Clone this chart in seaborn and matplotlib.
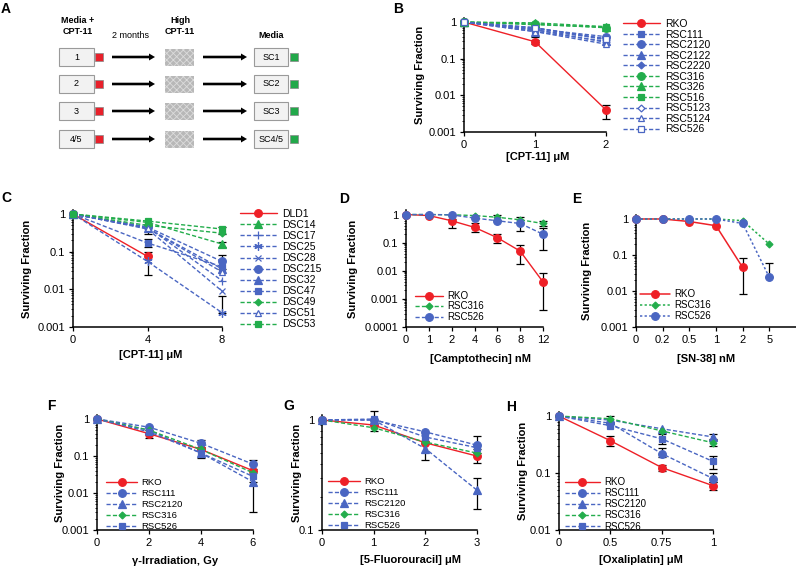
import numpy as np
import matplotlib
matplotlib.use('Agg')
import matplotlib.pyplot as plt
import seaborn as sns
from matplotlib.patches import Rectangle, FancyArrow
from matplotlib.ticker import LogLocator, NullFormatter

sns.set_theme(style='ticks')
plt.rcParams['font.family'] = ['Liberation Sans', 'DejaVu Sans']
plt.rcParams['text.color'] = 'black'
plt.rcParams['axes.labelcolor'] = 'black'
plt.rcParams['axes.edgecolor'] = 'black'
plt.rcParams['xtick.color'] = 'black'
plt.rcParams['ytick.color'] = 'black'
plt.rcParams['hatch.linewidth'] = 0.6

# ---------------- data ----------------
# B: CPT-11, RKO-derived lines
b_x = [0, 1, 2]
b_names = ['RKO', 'RSC111', 'RSC2120', 'RSC2122', 'RSC2220', 'RSC316',
           'RSC326', 'RSC516', 'RSC5123', 'RSC5124', 'RSC526']
b_values = [[1, 0.29, 0.004], [1, 0.6, 0.35], [1, 0.65, 0.4], [1, 0.55, 0.3],
            [1, 0.7, 0.33], [1, 0.88, 0.7], [1, 0.95, 0.75], [1, 0.85, 0.72],
            [1, 0.62, 0.28], [1, 0.55, 0.25], [1, 0.7, 0.35]]
b_err = [('RKO', 1, 0.25, 0.33), ('RKO', 2, 0.0022, 0.0055),
         ('RSC111', 0, 0.8, 1.1), ('RSC2122', 1, 0.4, 0.75)]

# C: CPT-11, DLD1-derived lines
c_x = [0, 4, 8]
c_names = ['DLD1', 'DSC14', 'DSC17', 'DSC25', 'DSC28', 'DSC215', 'DSC32',
           'DSC47', 'DSC49', 'DSC51', 'DSC53']
c_values = [[1, 0.075, np.nan], [1, 0.6, 0.16], [1, 0.45, 0.017], [1, 0.055, 0.0024],
            [1, 0.4, 0.009], [1, 0.45, 0.055], [1, 0.42, 0.035], [1, 0.17, 0.04],
            [1, 0.5, 0.31], [1, 0.42, 0.029], [1, 0.65, 0.4]]
c_err = [('DLD1', 4, 0.024, 0.1), ('DSC47', 4, 0.13, 0.22), ('DSC215', 4, 0.3, 0.55),
         ('DSC215', 8, 0.035, 0.08), ('DSC25', 8, 0.0024, 0.0065),
         ('DSC53', 8, 0.3, 0.45), ('DSC14', 8, 0.13, 0.18)]

# D: camptothecin
d_labels = ['0', '1', '2', '4', '6', '8', '12']
d_x = [0, 1, 2, 3, 4, 5, 6]
d_names = ['RKO', 'RSC316', 'RSC526']
d_values = [[1, 0.92, 0.6, 0.35, 0.15, 0.05, 0.004],
            [1, 1, 0.98, 0.92, 0.8, 0.65, 0.48],
            [1, 1, 0.97, 0.75, 0.6, 0.48, 0.2]]
d_err = [('RKO', 2, 0.34, 0.72), ('RKO', 3, 0.23, 0.48), ('RKO', 4, 0.1, 0.21),
         ('RKO', 5, 0.018, 0.08), ('RKO', 6, 0.0004, 0.0085),
         ('RSC316', 4, 0.65, 1.0), ('RSC316', 6, 0.38, 0.6),
         ('RSC526', 5, 0.26, 0.85), ('RSC526', 6, 0.056, 0.34)]

# E: SN-38
e_labels = ['0', '0.2', '0.5', '1', '2', '5']
e_x = [0, 1, 2, 3, 4, 5]
e_names = ['RKO', 'RSC316', 'RSC526']
e_values = [[1, 1, 0.85, 0.65, 0.045, np.nan],
            [1, 1, 1, 1, 0.9, 0.2],
            [1, 1, 1, 1, 0.75, 0.024]]
e_err = [('RKO', 4, 0.008, 0.085), ('RSC526', 5, 0.024, 0.06)]

# F: gamma irradiation
f_x = [0, 2, 4, 6]
fgh_names = ['RKO', 'RSC111', 'RSC2120', 'RSC316', 'RSC526']
f_values = [[1, 0.4, 0.15, 0.04], [1, 0.6, 0.22, 0.06], [1, 0.5, 0.12, 0.02],
            [1, 0.5, 0.15, 0.035], [1, 0.45, 0.12, 0.028]]
f_err = [('RKO', 2, 0.3, 0.5), ('RSC111', 4, 0.17, 0.27), ('RSC111', 6, 0.045, 0.08),
         ('RSC2120', 6, 0.003, 0.02), ('RSC526', 4, 0.09, 0.16)]

# G: 5-fluorouracil
g_x = [0, 1, 2, 3]
g_values = [[1, 0.9, 0.62, 0.47], [1, 1.0, 0.78, 0.59], [1, 1.0, 0.55, 0.23],
            [1, 0.85, 0.63, 0.5], [1, 1.02, 0.7, 0.56]]
g_err = [('RKO', 3, 0.41, 0.55), ('RSC111', 1, 0.8, 1.2), ('RSC111', 3, 0.5, 0.71),
         ('RSC2120', 2, 0.43, 0.65), ('RSC2120', 3, 0.155, 0.3)]

# H: oxaliplatin
h_labels = ['0', '0.5', '0.75', '1']
h_x = [0, 1, 2, 3]
h_values = [[1, 0.37, 0.125, 0.06], [1, 0.75, 0.22, 0.08], [1, 0.85, 0.6, 0.43],
            [1, 0.9, 0.55, 0.34], [1, 0.68, 0.4, 0.16]]
h_err = [('RKO', 1, 0.3, 0.45), ('RKO', 2, 0.11, 0.14), ('RKO', 3, 0.05, 0.07),
         ('RSC111', 2, 0.19, 0.27), ('RSC111', 3, 0.07, 0.1), ('RSC2120', 3, 0.38, 0.48),
         ('RSC316', 1, 0.8, 1.02), ('RSC316', 3, 0.3, 0.4),
         ('RSC526', 2, 0.33, 0.48), ('RSC526', 3, 0.12, 0.2)]

# schematic rows
a_left = ['1', '2', '3', '4/5']
a_right = ['SC1', 'SC2', 'SC3', 'SC4/5']

# ---------------- styles ----------------
RED = '#ee2027'
BLUE = '#4a66c2'
GREEN = '#23ad4c'
DASH = (0, (3, 1.6))
SOLID = '-'

b_styles = [(RED, 'o', 5.5, True, SOLID), (BLUE, 's', 5, True, DASH),
            (BLUE, 'o', 5.5, True, DASH), (BLUE, '^', 5.5, True, DASH),
            (BLUE, 'D', 3.5, True, DASH), (GREEN, 'o', 5.5, True, DASH),
            (GREEN, '^', 5.5, True, DASH), (GREEN, 's', 5, True, DASH),
            (BLUE, 'D', 3.5, False, DASH), (BLUE, '^', 5, False, DASH),
            (BLUE, 's', 5, False, DASH)]
c_styles = [(RED, 'o', 5.5, True, SOLID), (GREEN, '^', 5.5, True, DASH),
            (BLUE, '+', 6, True, DASH), (BLUE, (6, 2, 0), 6, True, DASH),
            (BLUE, 'x', 5, True, DASH), (BLUE, 'o', 5.5, True, DASH),
            (BLUE, '^', 5.5, True, DASH), (BLUE, 's', 5, True, DASH),
            (GREEN, 'D', 3.5, True, DASH), (BLUE, '^', 5, False, DASH),
            (GREEN, 's', 5, True, DASH)]
de_styles = [(RED, 'o', 5.5, True, SOLID), (GREEN, 'D', 3.5, True, DASH),
             (BLUE, 'o', 5.5, True, DASH)]
fgh_styles = [(RED, 'o', 5.5, True, SOLID), (BLUE, 'o', 5.5, True, DASH),
              (BLUE, '^', 5.5, True, DASH), (GREEN, 'D', 3.5, True, DASH),
              (BLUE, 's', 5, True, DASH)]

W, H = 796, 566
fig = plt.figure(figsize=(W / 100, H / 100), dpi=100)


def make_ax(rect):
    l, t, r, b = rect
    return fig.add_axes([l / W, 1 - b / H, (r - l) / W, (b - t) / H])


def fmt(v):
    return ('%f' % v).rstrip('0').rstrip('.')


def style_ax(ax, xlim, xticks, xticklabels, ylim, yticks):
    ax.set_yscale('log')
    ax.set_xlim(*xlim)
    ax.set_ylim(*ylim)
    ax.set_xticks(xticks, [str(t) for t in xticklabels])
    ax.set_yticks(yticks, [fmt(v) for v in yticks])
    ax.yaxis.set_minor_locator(LogLocator(base=10, subs=np.arange(2, 10) * 1.0, numticks=20))
    ax.yaxis.set_minor_formatter(NullFormatter())
    sns.despine(ax=ax)
    for s in ['left', 'bottom']:
        ax.spines[s].set_linewidth(1.1)
    ax.tick_params(which='major', direction='out', length=3, width=0.9, labelsize=8, pad=2.5)
    ax.tick_params(which='minor', direction='out', length=1.8, width=0.6)
    ax.set_facecolor('none')


def draw(ax, x, names, values, styles, errs, lw=1.0):
    for name, x0, lo, hi in errs:
        y = values[names.index(name)][x.index(x0)]
        ax.errorbar([x0], [y], yerr=[[max(y - lo, 0)], [max(hi - y, 0)]], fmt='none',
                    ecolor='black', elinewidth=0.9, capsize=3, capthick=0.9,
                    zorder=2, clip_on=False)
    for name, vals, st in zip(names, values, styles):
        color, marker, ms, filled, ls = st
        sns.lineplot(x=x, y=vals, ax=ax, color=color, marker=marker, markersize=ms,
                     markerfacecolor=color if filled else 'white',
                     markeredgecolor=color, markeredgewidth=0.9,
                     linestyle=ls, linewidth=lw, label=name, clip_on=False,
                     zorder=3, errorbar=None, sort=False)


def labels(ax, rect, xlabel, xl_cx, xl_top, yl_right):
    l, t, r, b = rect
    ax.set_xlabel(xlabel, fontsize=8, fontweight='bold')
    ax.xaxis.set_label_coords((xl_cx - l) / (r - l), (b - xl_top) / (b - t))
    ax.set_ylabel('Surviving Fraction', fontsize=8, fontweight='bold')
    ax.yaxis.set_label_coords((yl_right - l) / (r - l), 0.5)


def legend(ax, px, py, fs, hl, ls):
    ax.legend(loc='upper left', bbox_to_anchor=(px / W, 1 - py / H),
              bbox_transform=fig.transFigure, frameon=False, fontsize=fs,
              handlelength=hl, handletextpad=0.45, labelspacing=ls,
              borderpad=0, borderaxespad=0)


# ---------------- B ----------------
rb = (464, 18, 606, 132)
ax = make_ax(rb)
draw(ax, b_x, b_names, b_values, b_styles, b_err)
style_ax(ax, (0, 2), [0, 1, 2], [0, 1, 2], (0.001, 1.29), [0.001, 0.01, 0.1, 1])
labels(ax, rb, '[CPT-11] \u03bcM', 538, 152, 425)
legend(ax, 623, 19, 7.5, 3.55, 0.05)

# ---------------- C ----------------
rc = (73, 210, 222, 327)
ax = make_ax(rc)
draw(ax, c_x, c_names, c_values, c_styles, c_err)
style_ax(ax, (0, 8), [0, 4, 8], [0, 4, 8], (0.001, 1.28), [0.001, 0.01, 0.1, 1])
labels(ax, rc, '[CPT-11] \u03bcM', 151, 350, 32)
legend(ax, 240, 209, 7.5, 3.55, 0.1)

# ---------------- D ----------------
rd = (406, 210, 543, 327)
ax = make_ax(rd)
draw(ax, d_x, d_names, d_values, de_styles, d_err)
style_ax(ax, (0, 6), d_x, d_labels, (0.0001, 1.45), [0.0001, 0.001, 0.01, 0.1, 1])
labels(ax, rd, '[Camptothecin] nM', 480, 354, 358)
legend(ax, 415, 291, 7, 2.9, 0.05)

# ---------------- E ----------------
re_ = (636, 215, 796, 327)
ax = make_ax(re_)
e_styles = [(RED, 'o', 5.5, True, SOLID), (GREEN, 'D', 3.5, True, (0, (1.5, 1.5))),
            (BLUE, 'o', 5.5, True, (0, (1.5, 1.5)))]
draw(ax, e_x, e_names, e_values, e_styles, e_err, lw=1.1)
style_ax(ax, (0, 6), e_x, e_labels, (0.001, 1.29), [0.001, 0.01, 0.1, 1])
labels(ax, re_, '[SN-38] nM', 706, 354, 592)
legend(ax, 640, 289, 7, 3.1, 0.12)

# ---------------- F ----------------
rf = (97, 415, 253, 530)
ax = make_ax(rf)
draw(ax, f_x, fgh_names, f_values, fgh_styles, f_err)
style_ax(ax, (0, 6), f_x, f_x, (0.001, 1.28), [0.001, 0.01, 0.1, 1])
labels(ax, rf, '\u03b3-Irradiation, Gy', 175, 556, 65)
legend(ax, 106, 478, 6.8, 3.3, 0.22)

# ---------------- G ----------------
rg = (322, 415, 477, 530)
ax = make_ax(rg)
draw(ax, g_x, fgh_names, g_values, fgh_styles, g_err)
style_ax(ax, (0, 3), g_x, g_x, (0.1, 1.11), [0.1, 1])
labels(ax, rg, '[5-Fluorouracil] \u03bcM', 411, 555, 302)
legend(ax, 328, 477, 6.8, 3.4, 0.22)

# ---------------- H ----------------
rh = (559, 412, 713, 530)
ax = make_ax(rh)
draw(ax, h_x, fgh_names, h_values, fgh_styles, h_err)
style_ax(ax, (0, 3), h_x, h_labels, (0.01, 1.18), [0.01, 0.1, 1])
labels(ax, rh, '[Oxaliplatin] \u03bcM', 641, 555, 528)
legend(ax, 565, 477, 7, 3.55, 0.12)

# ---------------- A schematic + panel letters ----------------
ov = fig.add_axes([0, 0, 1, 1])
ov.set_xlim(0, W)
ov.set_ylim(H, 0)
ov.axis('off')
ov.set_zorder(10)

ov.text(78, 26, 'Media +\nCPT-11', ha='center', va='center', fontsize=6.5,
        fontweight='bold', linespacing=1.15)
ov.text(130, 35, '2 months', ha='center', va='center', fontsize=6.5)
ov.text(180, 26, 'High\nCPT-11', ha='center', va='center', fontsize=6.5,
        fontweight='bold', linespacing=1.15)
ov.text(271, 35, 'Media', ha='center', va='center', fontsize=6.5, fontweight='bold')

row_tops = [48, 75, 102, 130]
for top, lt, rt in zip(row_tops, a_left, a_right):
    c = top + 9
    ov.add_patch(Rectangle((59, top), 35, 18, fc='#f2f2f2', ec='#9a9a9a', lw=0.8))
    ov.text(76.5, c, lt, ha='center', va='center', fontsize=6.5)
    ov.add_patch(Rectangle((95, c - 4), 8, 8, fc='#e8202a', ec='#888888', lw=0.5))
    ov.add_patch(FancyArrow(112, c, 43, 0, width=2.6, head_width=7, head_length=6,
                            length_includes_head=True, color='black', lw=0))
    ov.add_patch(Rectangle((165, top + 0.5), 29, 17, fc='#b8b8b8', ec='#dcdcdc',
                           hatch='xxxxx', lw=0))
    ov.add_patch(FancyArrow(203, c, 44, 0, width=2.6, head_width=7, head_length=6,
                            length_includes_head=True, color='black', lw=0))
    ov.add_patch(Rectangle((254, top), 34, 18, fc='#f2f2f2', ec='#9a9a9a', lw=0.8))
    ov.text(271, c, rt, ha='center', va='center', fontsize=6.5)
    ov.add_patch(Rectangle((290, c - 4), 8, 8, fc='#22a84a', ec='#888888', lw=0.5))

for letter, (px, py) in zip('ABCDEFGH', [(1, 2), (393, 2), (1, 191), (339, 192),
                                         (572, 192), (47, 399), (283, 399), (506, 400)]):
    ov.text(px, py, letter, ha='left', va='top', fontsize=10, fontweight='bold')

fig.savefig('out.png', dpi=100)
